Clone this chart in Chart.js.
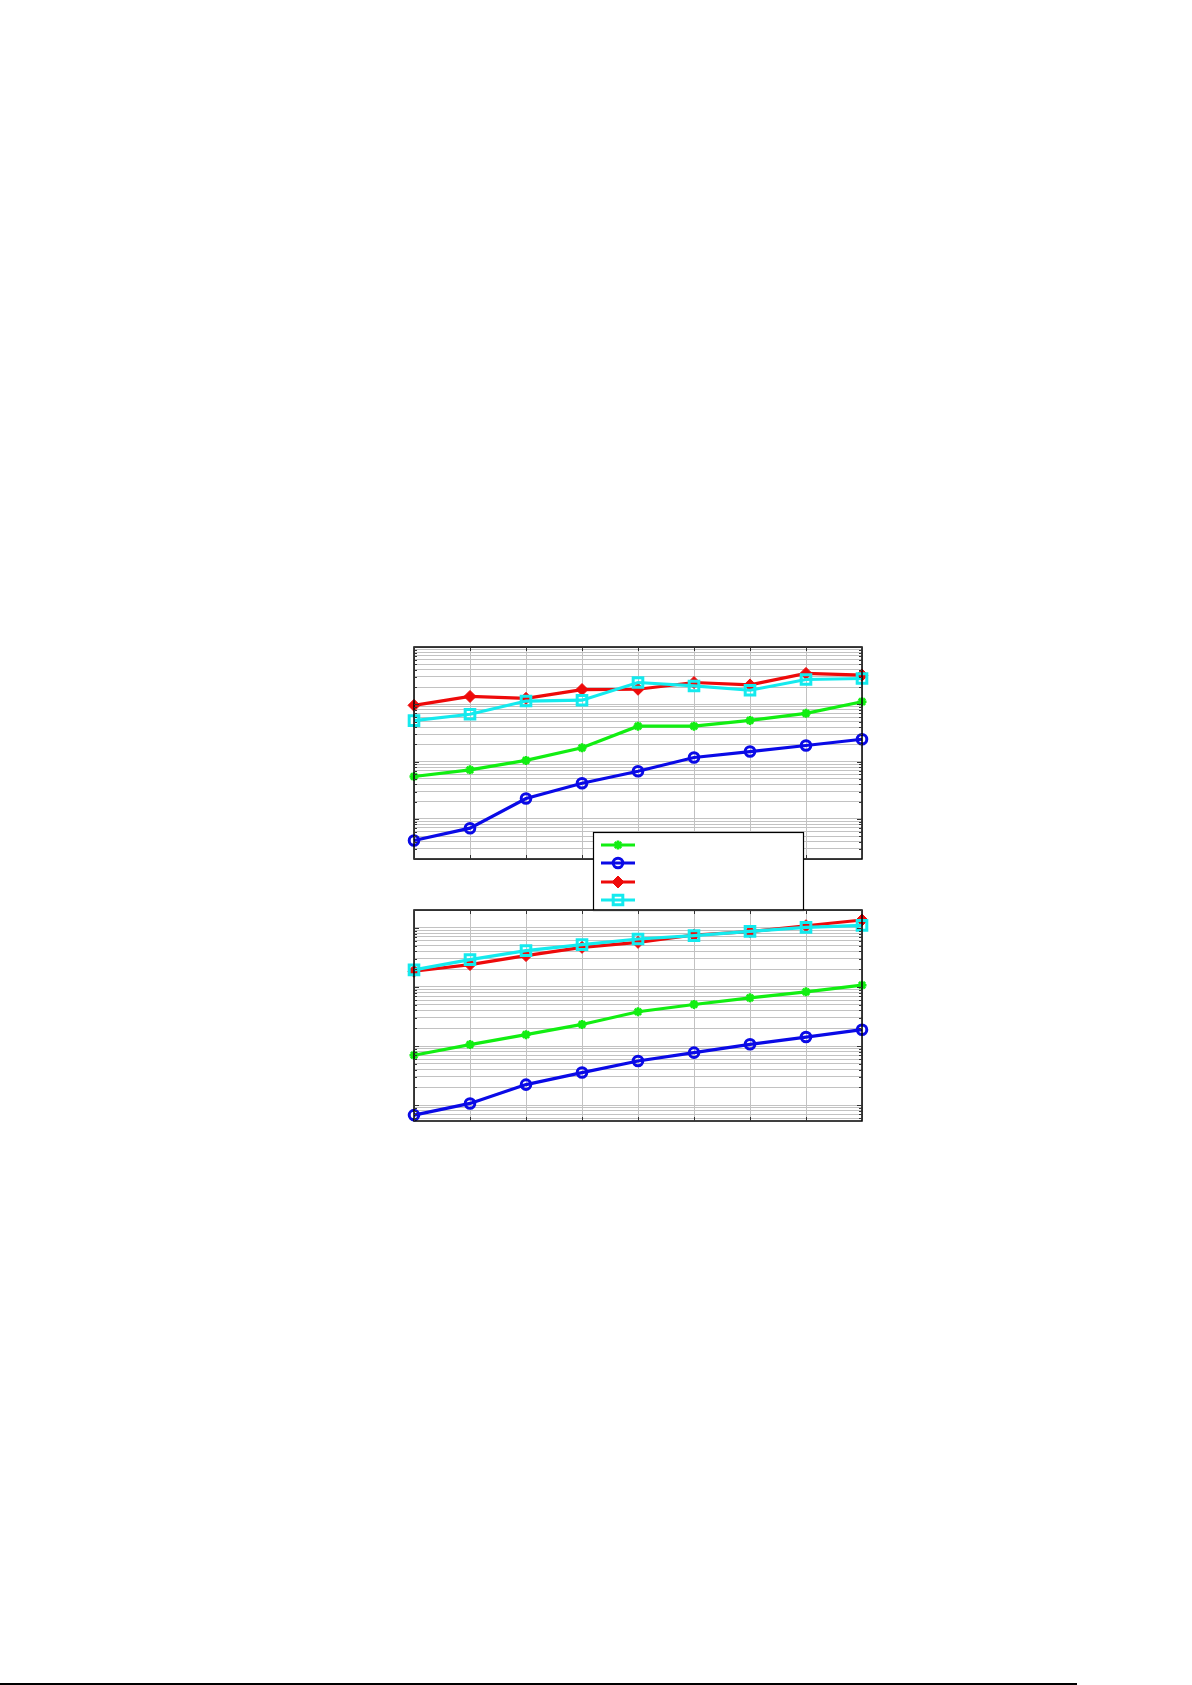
<!DOCTYPE html>
<html>
<head>
<meta charset="utf-8">
<title>Log charts</title>
<script src="https://cdn.jsdelivr.net/npm/chart.js@4.4.0/dist/chart.umd.min.js"></script>
<style>
  html, body { margin: 0; padding: 0; background: #fff; }
  body { width: 1192px; height: 1685px; position: relative; overflow: hidden; font-family: "DejaVu Sans", sans-serif; }
  canvas { position: absolute; }
  #topChart { left: 404px; top: 637px; }
  #bottomChart { left: 404px; top: 900px; }
  .rule { position: absolute; left: 0; top: 1683px; width: 1077px; height: 2px; background: #000; }
</style>
</head>
<body>
<canvas id="topChart" width="470" height="280"></canvas>
<canvas id="bottomChart" width="470" height="232"></canvas>
<div class="rule"></div>
<script>
// x categories (no labels shown in the figure)
const xLabels = ['1', '2', '3', '4', '5', '6', '7', '8', '9'];

// upper panel
const topGreen = [5.5, 7.2, 10.5, 17.4, 41.6, 41.6, 52.4, 69.5, 111];
const topBlue = [0.42, 0.69, 2.27, 4.2, 6.8, 11.8, 15.0, 19.1, 24.6];
const topRed = [96, 137, 127, 181, 183, 240, 218, 346, 323];
const topCyan = [52, 67, 114, 118, 240, 209, 176, 271, 282];

// lower panel
const botGreen = [7.0, 10.6, 15.6, 23.2, 38.0, 50.5, 65.5, 82.6, 107];
const botBlue = [0.68, 1.07, 2.23, 3.56, 5.58, 7.74, 10.7, 14.2, 18.9];
const botRed = [184, 239, 339, 467, 567, 756, 859, 1084, 1354];
const botCyan = [194, 290, 411, 519, 647, 736, 869, 1016, 1097];

const topRange = [0.2, 1000];
const botRange = [0.54, 2000];

const GREEN = '#12ee12';
const BLUE = '#0a0ae6';
const RED = '#ee0a0a';
const CYAN = '#14eaee';
const GRID = '#c2c2c2';

const styles = [
    { color: GREEN, pointStyle: 'star', radius: 4.5, borderWidth: 2.6, fill: GREEN, order: 4 },
    { color: BLUE, pointStyle: 'circle', radius: 4.8, borderWidth: 3, fill: 'rgba(0,0,0,0)', order: 3 },
    { color: RED, pointStyle: 'rectRot', radius: 6, borderWidth: 1, fill: RED, order: 2 },
    { color: CYAN, pointStyle: 'rect', radius: 6.8, borderWidth: 3, fill: 'rgba(0,0,0,0)', order: 1 }
];

function makeDataset(values, s) {
    return {
        data: values,
        borderColor: s.color,
        borderWidth: 3.2,
        pointStyle: s.pointStyle,
        pointRadius: s.radius,
        pointHoverRadius: s.radius,
        pointBorderColor: s.color,
        pointBackgroundColor: s.fill,
        pointBorderWidth: s.borderWidth,
        tension: 0,
        clip: false,
        order: s.order
    };
}

// decade grid: 1..9 x 10^k inside the range
function logTicks(min, max) {
    const out = [];
    for (let e = Math.floor(Math.log10(min)); e <= Math.ceil(Math.log10(max)); e++) {
        for (let d = 1; d <= 9; d++) {
            const v = d * Math.pow(10, e);
            if (v >= min * 0.999 && v <= max * 1.001) out.push({ value: v, major: d === 1 });
        }
    }
    return out;
}

const framePlugin = {
    id: 'frame',
    afterDraw(chart, args, opts) {
        const ctx = chart.ctx;
        const ca = chart.chartArea;
        const ys = chart.scales.y;
        const xs = chart.scales.x;
        ctx.save();
        ctx.strokeStyle = '#000';
        ctx.lineWidth = 1.5;
        ctx.strokeRect(ca.left, ca.top, ca.right - ca.left, ca.bottom - ca.top);
        // inward tick marks
        ctx.lineWidth = 1;
        ctx.strokeStyle = '#333';
        ctx.beginPath();
        ys.ticks.forEach(t => {
            const y = Math.round(ys.getPixelForValue(t.value)) + 0.5;
            const len = t.major ? 5 : 3;
            ctx.moveTo(ca.left, y); ctx.lineTo(ca.left + len, y);
            ctx.moveTo(ca.right, y); ctx.lineTo(ca.right - len, y);
        });
        xs.ticks.forEach((t, i) => {
            const x = Math.round(xs.getPixelForTick(i)) + 0.5;
            ctx.moveTo(x, ca.top); ctx.lineTo(x, ca.top + 4);
            ctx.moveTo(x, ca.bottom); ctx.lineTo(x, ca.bottom - 4);
        });
        ctx.stroke();

        if (opts && opts.legend) {
            const lx = ca.left + 179, ly = ca.bottom - 27, lw = 210, lh = 78;
            ctx.fillStyle = '#fff';
            ctx.fillRect(lx, ly, lw, lh);
            ctx.strokeStyle = '#000';
            ctx.lineWidth = 1.2;
            ctx.strokeRect(lx + 0.5, ly + 0.5, lw, lh);
            const rows = [13, 31, 50, 68];
            styles.forEach((s, i) => {
                const y = ly + rows[i];
                ctx.strokeStyle = s.color;
                ctx.lineWidth = 3.2;
                ctx.beginPath();
                ctx.moveTo(lx + 8, y);
                ctx.lineTo(lx + 42, y);
                ctx.stroke();
                ctx.fillStyle = s.fill;
                ctx.strokeStyle = s.color;
                ctx.lineWidth = s.borderWidth;
                Chart.helpers.drawPoint(ctx, {
                    pointStyle: s.pointStyle,
                    radius: s.radius,
                    borderWidth: s.borderWidth,
                    rotation: 0
                }, lx + 25, y);
            });
        }
        ctx.restore();
    }
};

function makeChart(id, series, range, padding, withLegend) {
    const ticks = logTicks(range[0], range[1]);
    return new Chart(document.getElementById(id).getContext('2d'), {
        type: 'line',
        data: {
            labels: xLabels,
            datasets: series.map((v, i) => makeDataset(v, styles[i]))
        },
        options: {
            responsive: false,
            animation: false,
            events: [],
            layout: { padding: padding },
            plugins: {
                legend: { display: false },
                tooltip: { enabled: false },
                frame: { legend: withLegend }
            },
            scales: {
                x: {
                    type: 'category',
                    offset: false,
                    grid: { color: GRID, lineWidth: 1, drawTicks: false },
                    border: { display: false },
                    ticks: { display: false }
                },
                y: {
                    type: 'logarithmic',
                    min: range[0],
                    max: range[1],
                    afterBuildTicks: (scale) => { scale.ticks = ticks.map(t => ({ value: t.value, major: t.major })); },
                    grid: { color: GRID, lineWidth: 1, drawTicks: false },
                    border: { display: false },
                    ticks: { display: false }
                }
            }
        },
        plugins: [framePlugin]
    });
}

makeChart('topChart', [topGreen, topBlue, topRed, topCyan], topRange,
    { left: 10, top: 10, right: 12, bottom: 58 }, true);
makeChart('bottomChart', [botGreen, botBlue, botRed, botCyan], botRange,
    { left: 10, top: 10, right: 12, bottom: 11 }, false);
</script>
</body>
</html>
